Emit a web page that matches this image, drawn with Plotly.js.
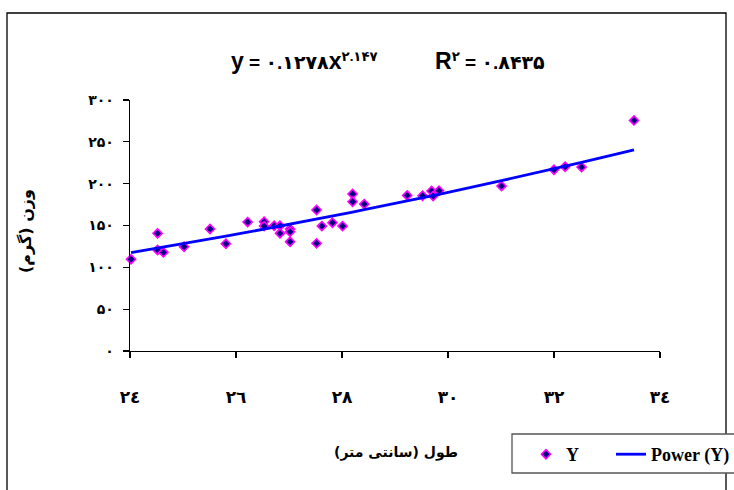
<!DOCTYPE html>
<html>
<head>
<meta charset="utf-8">
<script src="https://cdn.plot.ly/plotly-3.0.1.min.js"></script>
<style>html,body{margin:0;padding:0;background:#fff;}#chart{width:734px;height:490px;}</style>
</head>
<body>
<div id="chart"></div>
<script>
// Data
const lengthCm = [24.02, 24.52, 24.52, 24.63, 25.02, 25.51, 25.81, 26.22, 26.53, 26.53, 26.72, 26.83, 26.83, 27.02, 27.02, 27.02, 27.52, 27.52, 27.62, 27.82, 28.01, 28.20, 28.20, 28.42, 29.23, 29.52, 29.69, 29.72, 29.83, 31.01, 32.00, 32.21, 32.52, 33.51];
const weightG = [109.6, 140.6, 120.7, 117.9, 124.6, 145.8, 128.2, 154.1, 154.5, 149.3, 149.7, 149.7, 140.6, 145.8, 142.5, 130.6, 168.5, 128.7, 149.3, 153.3, 149.3, 187.6, 178.4, 175.6, 186.0, 185.5, 191.2, 185.2, 191.5, 197.1, 216.6, 220.2, 219.8, 275.6];

// Power trendline as stated on the chart: y = a * x^b
const trendA = 0.1278;
const trendB = 2.147;

const xTickVals = [24, 26, 28, 30, 32, 34];
const xTickText = ['٢٤', '٢٦', '٢٨', '٣٠', '٣٢', '٣٤'];
const yTickVals = [0, 50, 100, 150, 200, 250, 300];
const yTickText = ['۰', '۵۰', '۱۰۰', '۱۵۰', '۲۰۰', '۲۵۰', '۳۰۰'];

const seriesName = 'Y';
const trendName = 'Power (Y)';
const xTitle = 'طول (سانتی متر)';
const yTitle = 'وزن (گرم)';

const trendX = lengthCm.slice().sort((a, b) => a - b);
const trendY = trendX.map(x => trendA * Math.pow(x, trendB));

const L = 130, R = 660, T = 100, B = 351;
const W = 734, H = 490;
const px = p => (p - L) / (R - L);
const py = p => (B - p) / (B - T);

const font = 'Liberation Sans, Arial, DejaVu Sans, sans-serif';

const traces = [
  {
    x: lengthCm, y: weightG, type: 'scatter', mode: 'markers',
    name: seriesName + '\u00a0\u00a0\u00a0\u00a0\u00a0\u00a0',
    marker: {symbol: 'diamond', size: 7, color: '#000080', line: {color: '#FF00FF', width: 1.6}},
    cliponaxis: false
  },
  {
    x: trendX, y: trendY, type: 'scatter', mode: 'lines', name: trendName,
    line: {color: '#0000FF', width: 2.8}
  }
];

const layout = {
  width: W, height: H,
  margin: {l: L, r: W - R, t: T, b: H - B, pad: 0, autoexpand: false},
  paper_bgcolor: '#ffffff', plot_bgcolor: '#ffffff',
  font: {family: font, color: '#000'},
  showlegend: true,
  xaxis: {
    range: [24, 34], showgrid: false, zeroline: false,
    showline: true, linecolor: '#000', linewidth: 1.3,
    ticks: 'outside', ticklen: 6, tickcolor: '#000', tickwidth: 1.3,
    tickvals: xTickVals, ticktext: xTickText, ticklabelstandoff: 24,
    tickfont: {family: 'DejaVu Sans, sans-serif', size: 17, color: '#000', weight: 'bold'},
    fixedrange: true
  },
  yaxis: {
    range: [0, 300], showgrid: false, zeroline: false,
    showline: true, linecolor: '#000', linewidth: 1.3,
    ticks: 'outside', ticklen: 6, tickcolor: '#000', tickwidth: 1.3,
    tickvals: yTickVals, ticktext: yTickText, ticklabelstandoff: 6,
    tickfont: {family: 'DejaVu Sans, sans-serif', size: 14, color: '#000', weight: 'bold'},
    fixedrange: true
  },
  xaxis2: {
    range: [24, 34], overlaying: 'x', anchor: 'y2', showgrid: false, zeroline: false,
    showline: false, ticks: 'inside', ticklen: 6, tickcolor: '#000', tickwidth: 1.3,
    tickvals: xTickVals, showticklabels: false, fixedrange: true
  },
  yaxis2: {
    range: [0, 300], overlaying: 'y', anchor: 'x2', showgrid: false, zeroline: false,
    showline: false, ticks: 'inside', ticklen: 6, tickcolor: '#000', tickwidth: 1.3,
    tickvals: yTickVals, showticklabels: false, fixedrange: true
  },
  legend: {
    orientation: 'h', x: px(526), xanchor: 'left', y: py(436), yanchor: 'top',
    bgcolor: 'rgba(0,0,0,0)', borderwidth: 0,
    font: {family: 'Liberation Serif, Times New Roman, serif', size: 18, color: '#000', weight: 'bold'}
  },
  shapes: [
    {type: 'rect', xref: 'paper', yref: 'paper', x0: px(7), x1: px(726), y0: py(497), y1: py(13),
     line: {color: '#000', width: 1.3}, fillcolor: 'rgba(0,0,0,0)', layer: 'below'},
    {type: 'rect', xref: 'paper', yref: 'paper', x0: px(512), x1: px(745), y0: py(473), y1: py(434),
     line: {color: '#555', width: 1.3}, fillcolor: '#ffffff', layer: 'below'}
  ],
  annotations: [
    {xref: 'paper', yref: 'paper', x: px(304), y: py(61), xanchor: 'center', yanchor: 'middle', showarrow: false,
     text: '<b><span style="font-size:23px">y</span> = ۰.۱۲۷۸<span style="font-size:23px">x</span><sup>۲.۱۴۷</sup></b>',
     font: {family: font, size: 19, color: '#000'}},
    {xref: 'paper', yref: 'paper', x: px(490), y: py(61), xanchor: 'center', yanchor: 'middle', showarrow: false,
     text: '<b><span style="font-size:23px">R</span><sup>۲</sup> = ۰.۸۴۳۵</b>',
     font: {family: font, size: 19, color: '#000'}},
    {xref: 'paper', yref: 'paper', x: px(396), y: py(452), xanchor: 'center', yanchor: 'middle', showarrow: false,
     text: '<b>' + xTitle + '</b>', font: {family: 'DejaVu Sans, sans-serif', size: 14, color: '#000'}},
    {xref: 'paper', yref: 'paper', x: px(25), y: py(231), xanchor: 'center', yanchor: 'middle', showarrow: false,
     textangle: -90, text: '<b>' + yTitle + '</b>', font: {family: 'DejaVu Sans, sans-serif', size: 16, color: '#000'}}
  ]
};

Plotly.newPlot('chart', traces, layout, {staticPlot: true, displayModeBar: false});
</script>
</body>
</html>
